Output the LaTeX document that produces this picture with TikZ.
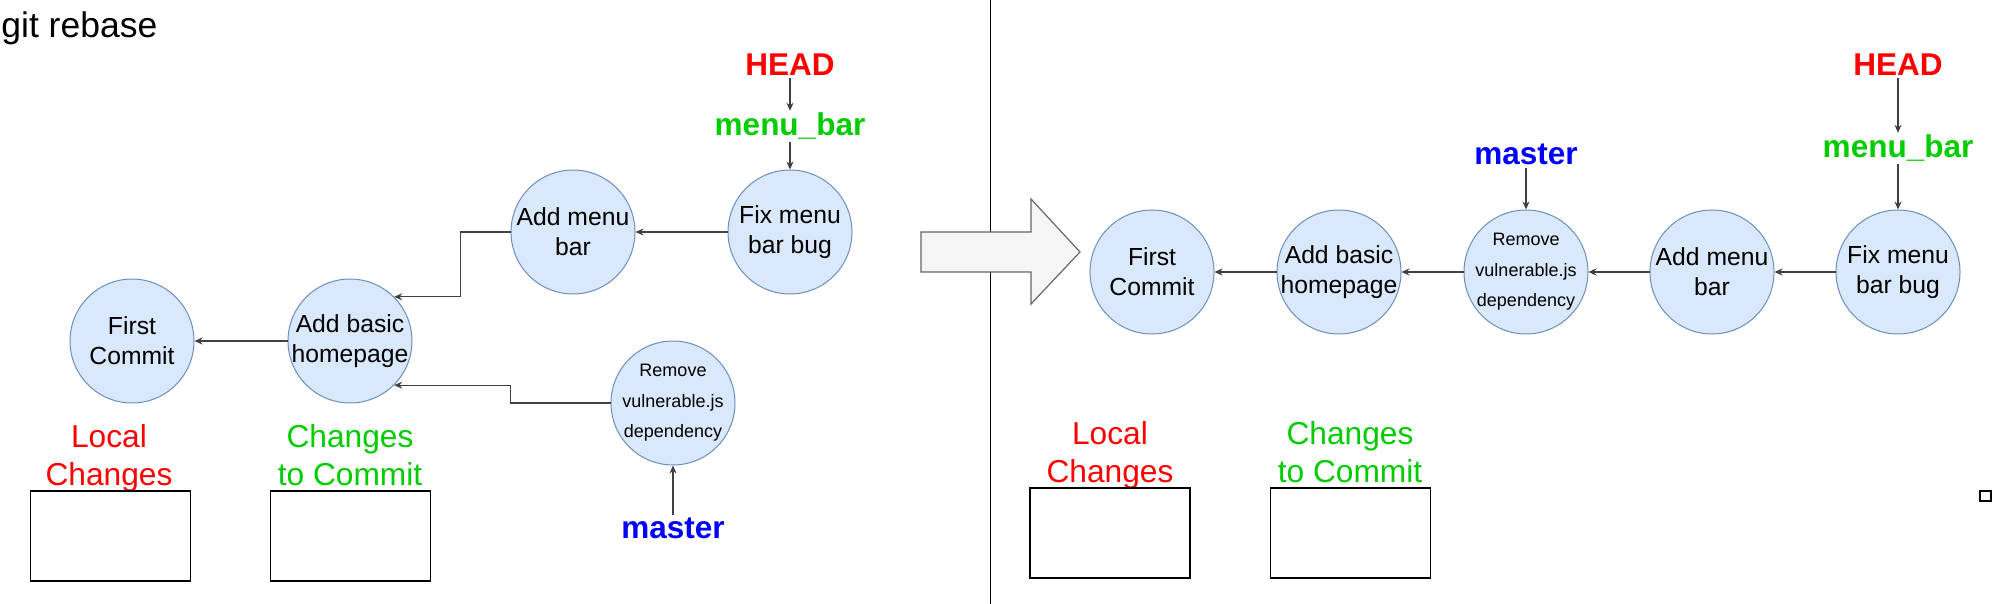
\documentclass[tikz,border=0pt]{standalone}
\usepackage{fontspec}
\setmainfont{Liberation Sans}
\usepackage{tikz}
\usetikzlibrary{arrows.meta}

\definecolor{commitfill}{HTML}{DAE8FC}
\definecolor{commitline}{HTML}{6C8EBF}
\definecolor{headred}{HTML}{FF0000}
\definecolor{branchgreen}{HTML}{00CC00}
\definecolor{masterblue}{HTML}{0000FF}
\definecolor{arrowfill}{HTML}{F5F5F5}
\definecolor{arrowline}{HTML}{666666}

\tikzset{
  commit/.style={circle, draw=commitline, fill=commitfill, line width=0.5pt, minimum size=62pt, inner sep=-2pt, align=center, font=\fontsize{12.35}{15}\selectfont},
  smallcommit/.style={commit, font=\fontsize{9}{15.25}\selectfont},
  ref/.style={inner sep=1pt, anchor=base, font=\bfseries\fontsize{15.75}{19}\selectfont},
  area/.style={align=center, inner sep=0pt, font=\fontsize{15.85}{19}\selectfont},
  stage/.style={draw, line width=0.6pt, minimum width=80pt, minimum height=45pt, inner sep=0pt},
  edge/.style={-{Stealth[length=4pt,width=3.5pt]}, line width=0.6pt, draw=black!75},
}

\begin{document}
\begin{tikzpicture}[x=0.5pt,y=-0.5pt]
    \useasboundingbox (0,0) rectangle (1992,604);

    % Title and separator
    \node[anchor=base west, inner sep=0pt, font=\fontsize{17.75}{20}\selectfont] (title) at (1,37.5) {git rebase};
    \draw[line width=0.5pt] (990,0) -- (990,604);

    % Before: commits
    \node[commit] (firstL) at (132,341) {First\\Commit};
    \node[commit] (homeL) at (350,341) {Add basic\\homepage};
    \node[commit] (menuL) at (573,232) {Add menu\\bar};
    \node[commit] (fixL) at (790,232) {Fix menu\\bar bug};
    \node[smallcommit] (removeL) at (673,403) {Remove\\vulnerable.js\\dependency};

    % Before: refs
    \node[ref, text=headred] (headL) at (790,75.5) {HEAD};
    \node[ref, text=branchgreen] (branchL) at (790,136) {menu\_bar};
    \node[ref, text=masterblue] (masterL) at (673,538) {master};

    \draw[edge] (headL) -- (branchL);
    \draw[edge] (branchL) -- (fixL);
    \draw[edge] (fixL) -- (menuL);
    \draw[edge] (menuL.west) -- ++(-50,0) |- (homeL.north east);
    \draw[edge] (removeL.west) -- ++(-100,0) |- (homeL.south east);
    \draw[edge] (homeL) -- (firstL);
    \draw[edge] (masterL) -- (removeL);

    % Before: working areas
    \node[area, text=headred] (localL) at (109,458) {Local\\Changes};
    \node[area, text=branchgreen] (stagedL) at (350,455) {Changes\\to Commit};
    \node[stage] (localboxL) at (110.5,536) {};
    \node[stage] (stagedboxL) at (350.6,536) {};

    % Big arrow
    \draw[draw=arrowline, fill=arrowfill, line width=0.6pt]
      (921,232) -- (1031,232) -- (1031,199) -- (1080,252) -- (1031,304) -- (1031,272) -- (921,272) -- cycle;

    % After: commits
    \node[commit] (firstR) at (1152,272) {First\\Commit};
    \node[commit] (homeR) at (1339,272) {Add basic\\homepage};
    \node[smallcommit] (removeR) at (1526,272) {Remove\\vulnerable.js\\dependency};
    \node[commit] (menuR) at (1712,272) {Add menu\\bar};
    \node[commit] (fixR) at (1898,272) {Fix menu\\bar bug};

    % After: refs
    \node[ref, text=masterblue] (masterR) at (1526,165) {master};
    \node[ref, text=headred] (headR) at (1898,75.5) {HEAD};
    \node[ref, text=branchgreen] (branchR) at (1898,158) {menu\_bar};

    \foreach \a/\b in {fixR/menuR, menuR/removeR, removeR/homeR, homeR/firstR, masterR/removeR, headR/branchR, branchR/fixR}
      \draw[edge] (\a) -- (\b);

    % After: working areas
    \node[area, text=headred] (localR) at (1110,455) {Local\\Changes};
    \node[area, text=branchgreen] (stagedR) at (1350,452) {Changes\\to Commit};
    \node[stage] (localboxR) at (1110,533) {};
    \node[stage] (stagedboxR) at (1350.5,533) {};

    \draw[line width=0.6pt] (1980,491) rectangle (1991,501);
\end{tikzpicture}
\end{document}
